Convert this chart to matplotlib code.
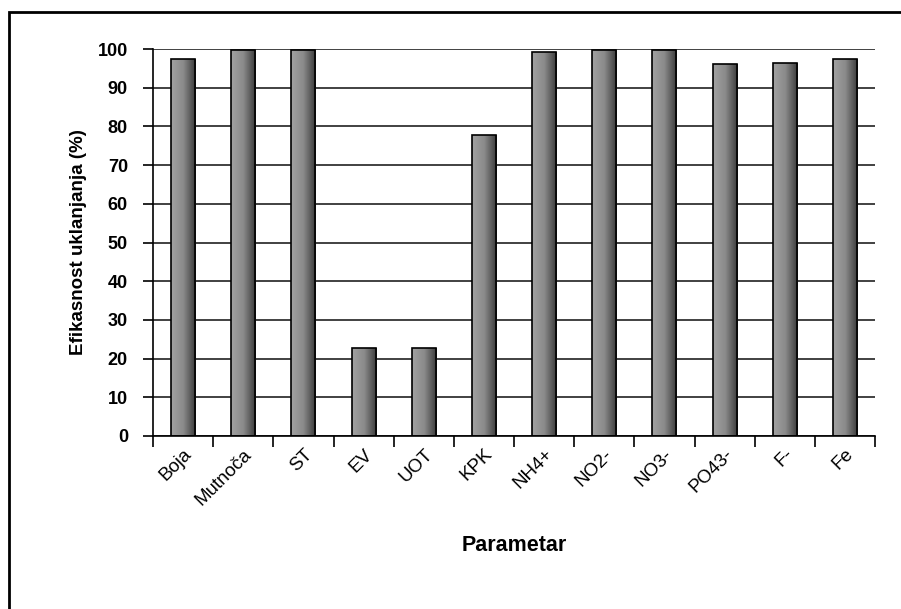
import numpy as np
import matplotlib.pyplot as plt
from matplotlib.colors import LinearSegmentedColormap
from matplotlib.patches import Rectangle

params = ['Boja', 'Mutnoča', 'ST', 'EV', 'UOT', 'KPK', 'NH4+', 'NO2-', 'NO3-', 'PO43-', 'F-', 'Fe']
efikasnost = [97.3, 99.7, 99.7, 22.8, 22.8, 77.7, 99.3, 99.7, 99.7, 96.0, 96.5, 97.3]
yticks = list(range(0, 101, 10))

plt.rcParams['font.family'] = ['Liberation Sans', 'DejaVu Sans']

fig = plt.figure(figsize=(9.01, 6.09), dpi=100)
ax = fig.add_axes([153/901, 1 - 436/609, (875 - 153)/901, (436 - 49)/609])

x = np.arange(len(params))
bars = ax.bar(x, efikasnost, width=0.4, color='none', edgecolor='black', linewidth=1.2, zorder=3)

# horizontal gradient inside each bar
cmap = LinearSegmentedColormap.from_list('g', ['#a2a2a2', '#8a8a8a', '#3a3a3a'])
grad = np.linspace(0, 1, 64).reshape(1, -1)
for b in bars:
    x0, w, h = b.get_x(), b.get_width(), b.get_height()
    im = ax.imshow(grad, cmap=cmap, aspect='auto', extent=[x0, x0 + w, 0, h], zorder=2)
    im.set_clip_path(b)

ax.set_xlim(-0.5, len(params) - 0.5)
ax.set_ylim(0, 100)
ax.set_yticks(yticks)
ax.set_yticklabels([str(v) for v in yticks], fontsize=13, fontweight='bold')
ax.yaxis.grid(True, color='#333333', linewidth=1.3)
ax.set_axisbelow(True)

ax.set_xticks(x)
ax.set_xticklabels(params, rotation=45, ha='right', rotation_mode='anchor', fontsize=13.5)
ax.set_xticks(np.arange(len(params) + 1) - 0.5, minor=True)
ax.tick_params(axis='x', which='major', length=0, pad=7)
ax.tick_params(axis='x', which='minor', length=8, width=1.2, direction='out')
ax.tick_params(axis='y', length=7, width=1.2, direction='out', pad=11)

for s in ['top', 'right']:
    ax.spines[s].set_visible(False)
ax.spines['left'].set_linewidth(1.2)
ax.spines['bottom'].set_linewidth(1.2)

ax.set_ylabel('Efikasnost uklanjanja (%)', fontsize=13.5, fontweight='bold', labelpad=8)
ax.set_xlabel('Parametar', fontsize=15.5, fontweight='bold', labelpad=19)

# outer frame, cut off at right and bottom like the screenshot
fig.patches.append(Rectangle((9/901, -0.1), 1.2, 1 - 12/609 + 0.1, transform=fig.transFigure,
                             fill=False, edgecolor='black', linewidth=2))

fig.savefig('out.png', dpi=100)
